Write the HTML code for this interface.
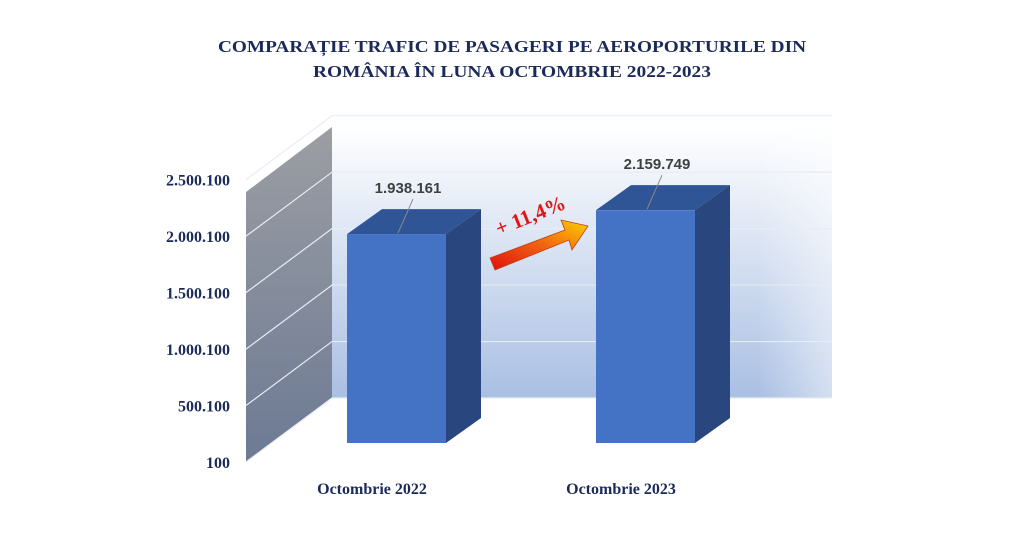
<!DOCTYPE html>
<html><head><meta charset="utf-8"><style>
body{margin:0;background:#fff;width:1024px;height:545px;overflow:hidden}
svg{display:block}
.t{font-family:"Liberation Serif",serif;font-weight:bold;fill:#1c2a5a}
.v{font-family:"Liberation Sans",sans-serif;font-weight:bold;fill:#404040;font-size:15px}
</style></head><body>
<svg width="1024" height="545">
<defs>
<linearGradient id="bw" x1="0" y1="0" x2="0" y2="1"><stop offset="0" stop-color="#ffffff"/><stop offset="1" stop-color="#a9bfe3"/></linearGradient>
<linearGradient id="bwr" x1="0" y1="0" x2="1" y2="0"><stop offset="0.85" stop-color="#fff" stop-opacity="0"/><stop offset="1" stop-color="#fff" stop-opacity="0.5"/></linearGradient>
<linearGradient id="sw" x1="0" y1="0" x2="0" y2="1"><stop offset="0" stop-color="#9c9ea3"/><stop offset="1" stop-color="#6c7a94"/></linearGradient>
<linearGradient id="ar" x1="0" y1="1" x2="1" y2="0"><stop offset="0" stop-color="#e01010"/><stop offset="0.5" stop-color="#f06010"/><stop offset="1" stop-color="#ffd000"/></linearGradient>
</defs>
<text class="t" x="512" y="52" font-size="17" text-anchor="middle" textLength="588" lengthAdjust="spacingAndGlyphs">COMPARAȚIE TRAFIC DE PASAGERI PE AEROPORTURILE DIN</text>
<text class="t" x="512" y="77" font-size="17" text-anchor="middle" textLength="398" lengthAdjust="spacingAndGlyphs">ROMÂNIA ÎN LUNA OCTOMBRIE 2022-2023</text>
<rect x="332" y="127" width="500" height="271" fill="url(#bw)"/>
<rect x="332" y="127" width="500" height="271" fill="url(#bwr)"/>
<polygon points="246,192 332,127 332,398 246,462" fill="url(#sw)"/>
<g id="grid"></g>
<g id="axis"></g>
<g id="bars"></g>
<g>
<polygon points="490,258 565,230 561,220 588,226 572,250 569,240 495,270" fill="url(#ar)" stroke="#c04010" stroke-width="0.8"/>
</g>
<text x="533" y="222" font-family="Liberation Serif,serif" font-weight="bold" font-size="21" fill="#e01515" text-anchor="middle" transform="rotate(-22 533 222)">+ 11,4%</text>
</svg>
<script>
const categories=["Octombrie 2022","Octombrie 2023"];
const values=[1938161,2159749];
const valueLabels=["1.938.161","2.159.749"];
const tickValues=[100,500100,1000100,1500100,2000100,2500100];
const tickLabels=["100","500.100","1.000.100","1.500.100","2.000.100","2.500.100"];
const NS="http://www.w3.org/2000/svg";
function mk(t,a,p){const e=document.createElementNS(NS,t);for(const k in a)e.setAttribute(k,a[k]);p.appendChild(e);return e;}
const backY=v=>398-(v-100)/2400000*271;
const frontY=v=>462-(v-100)/2400000*271;
const barY=v=>443-v/1000000*107.8;
const barX=i=>347+i*249;
const grid=document.getElementById('grid'),axis=document.getElementById('axis'),bars=document.getElementById('bars');
tickValues.forEach((v,i)=>{
  const l=mk('polyline',{points:`246,${frontY(v)} 332,${backY(v)} 832,${backY(v)}`,fill:'none',stroke:'#e8ecf4','stroke-width':1.2},grid);
  
  
  const t=mk('text',{x:230,y:frontY(v)+6,'text-anchor':'end','font-size':16,class:'t'},axis);
  t.textContent=tickLabels[i];
  
  
});
values.forEach((v,i)=>{
  const x=barX(i),y=barY(v),w=99,dx=35,dy=25;
  const g=mk('g',{},bars);
  
  
  mk('polygon',{points:`${x},${y} ${x+dx},${y-dy} ${x+w+dx},${y-dy} ${x+w},${y}`,fill:'#2f5597'},g);
  mk('polygon',{points:`${x+w},${y} ${x+w+dx},${y-dy} ${x+w+dx},${443-dy} ${x+w},443`,fill:'#29467e'},g);
  mk('rect',{x:x,y:y,width:w,height:443-y,fill:'#4472c4'},g);
  const ld=mk('line',{x1:x+51,y1:y-1,x2:x+66,y2:y-35,stroke:'#8a8a8a','stroke-width':1},bars);
  
  
  const vt=mk('text',{x:x+61,y:y-41,'text-anchor':'middle',class:'v'},bars);
  vt.textContent=valueLabels[i];
  
  
  const ct=mk('text',{x:x+25+i*0,y:494,'text-anchor':'middle','font-size':16,class:'t'},bars);
  ct.setAttribute('x',x+25);
  ct.textContent=categories[i];
  
  
});
</script>
</body></html>
